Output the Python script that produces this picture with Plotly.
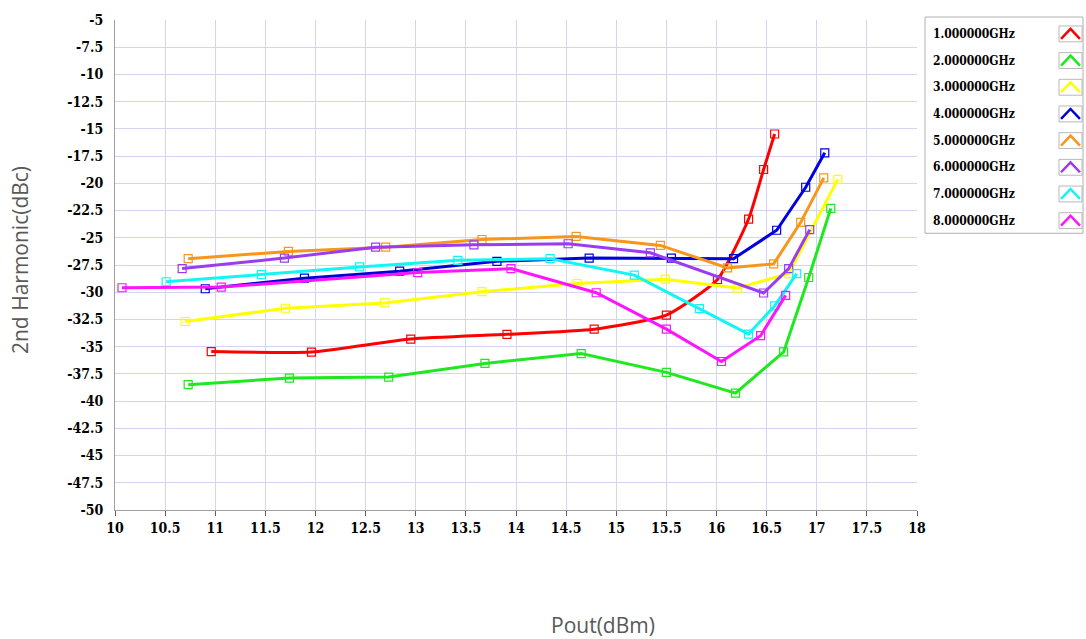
import plotly.graph_objects as go

names = ["1.000000GHz", "2.000000GHz", "3.000000GHz", "4.000000GHz",
         "5.000000GHz", "6.000000GHz", "7.000000GHz", "8.000000GHz"]
colors = ["#ff0000", "#1ee81e", "#ffff00", "#0000dd",
          "#f7961c", "#9b3cf0", "#11f5f5", "#ff14ff"]

x1 = [10.96, 11.96, 12.95, 13.91, 14.78, 15.50, 16.01, 16.32, 16.47, 16.58]
y1 = [-35.45, -35.5, -34.3, -33.87, -33.39, -32.1, -28.83, -23.28, -18.73, -15.47]
x2 = [10.73, 11.74, 12.73, 13.69, 14.65, 15.50, 16.19, 16.67, 16.92, 17.14]
y2 = [-38.49, -37.88, -37.79, -36.54, -35.63, -37.36, -39.27, -35.48, -28.65, -22.3]
x3 = [10.70, 11.70, 12.69, 13.66, 14.61, 15.49, 16.21, 16.72, 17.21]
y3 = [-32.69, -31.47, -30.98, -29.95, -29.2, -28.8, -29.62, -28.29, -19.64]
x4 = [10.90, 11.89, 12.84, 13.81, 14.73, 15.55, 16.17, 16.60, 16.89, 17.08]
y4 = [-29.68, -28.71, -28.07, -27.16, -26.86, -26.86, -26.92, -24.31, -20.36, -17.2]
x5 = [10.73, 11.73, 12.70, 13.66, 14.60, 15.44, 16.11, 16.57, 16.84, 17.07]
y5 = [-26.92, -26.25, -25.86, -25.16, -24.88, -25.7, -27.77, -27.4, -23.58, -19.5]
x6 = [10.67, 11.69, 12.60, 13.58, 14.52, 15.34, 16.47, 16.72, 16.93]
y6 = [-27.83, -26.86, -25.86, -25.65, -25.55, -26.38, -30.07, -27.83, -24.25]
x7 = [10.51, 11.46, 12.44, 13.42, 14.34, 15.18, 15.83, 16.32, 16.58, 16.80]
y7 = [-29.04, -28.38, -27.68, -27.07, -26.92, -28.43, -31.5, -33.84, -31.26, -28.29]
x8 = [10.07, 11.06, 13.02, 13.95, 14.80, 15.50, 16.05, 16.44, 16.69]
y8 = [-29.59, -29.53, -28.2, -27.83, -30.05, -33.39, -36.36, -33.99, -30.29]

xs = [x1, x2, x3, x4, x5, x6, x7, x8]
ys = [y1, y2, y3, y4, y5, y6, y7, y8]

x_ticks = [10, 10.5, 11, 11.5, 12, 12.5, 13, 13.5, 14, 14.5, 15, 15.5, 16, 16.5, 17, 17.5, 18]
y_ticks = [-5 - 2.5 * i for i in range(19)]

fig = go.Figure()
for i in range(len(names)):
    fig.add_trace(go.Scatter(
        x=xs[i], y=ys[i], name=names[i], mode="lines+markers",
        line=dict(color=colors[i], width=3,
                  shape="spline" if i == 0 else "linear", smoothing=0.5),
        marker=dict(symbol="square-open", size=8, color=colors[i],
                    line=dict(width=1.2, color=colors[i])),
        showlegend=False,
    ))

W, H = 1086, 639
L, R, T, B = 115, 917, 16, 510

def px(xp):
    return (xp - L) / (R - L)

def py(yp):
    return (B - yp) / (B - T)

SERIF = "DejaVu Serif Condensed, Liberation Serif, serif"

shapes = []
annotations = []
# legend box
shapes.append(dict(type="rect", xref="paper", yref="paper",
                   x0=px(925), x1=px(1083), y0=py(231), y1=py(13),
                   line=dict(color="#b0b0b0", width=1), fillcolor="white"))
for i, nm in enumerate(names):
    cy = 30 + i * 26.9
    annotations.append(dict(text=nm, xref="paper", yref="paper", x=px(931), y=py(cy),
                            xanchor="left", yanchor="middle", showarrow=False,
                            font=dict(family=SERIF, size=12, color="black", weight="bold")))
    bx0, bx1 = 1059, 1082
    shapes.append(dict(type="rect", xref="paper", yref="paper",
                       x0=px(bx0), x1=px(bx1), y0=py(cy + 8), y1=py(cy - 8),
                       line=dict(color="#b8b8b8", width=1), fillcolor="white"))
    path = "M {:.4f},{:.4f} L {:.4f},{:.4f} L {:.4f},{:.4f}".format(
        px(bx0 + 2), py(cy + 5), px((bx0 + bx1) / 2), py(cy - 5), px(bx1 - 2), py(cy + 5))
    shapes.append(dict(type="path", xref="paper", yref="paper", path=path,
                       line=dict(color=colors[i], width=2.5)))

annotations.append(dict(text="2nd Harmonic(dBc)", xref="paper", yref="paper",
                        x=px(20), y=py(258), textangle=-90, showarrow=False,
                        xanchor="center", yanchor="middle",
                        font=dict(family="Open Sans", size=21, color="#595959")))
annotations.append(dict(text="Pout(dBm)", xref="paper", yref="paper",
                        x=px(603), y=py(626), showarrow=False,
                        xanchor="center", yanchor="middle",
                        font=dict(family="Open Sans", size=21, color="#595959")))

tickfont = dict(family=SERIF, size=14, color="black", weight="bold")
fig.update_layout(
    width=W, height=H,
    margin=dict(l=L, r=W - R, t=T, b=H - B),
    paper_bgcolor="white", plot_bgcolor="white",
    shapes=shapes, annotations=annotations,
    xaxis=dict(range=[10, 18], tickmode="array", tickvals=x_ticks,
               ticktext=[("%g" % v) for v in x_ticks],
               showgrid=True, gridcolor="#d4d4f0", gridwidth=1,
               showline=True, linecolor="#a0a0a0", linewidth=1,
               ticks="outside", ticklen=5, tickcolor="#606060",
               zeroline=False, tickfont=tickfont),
    yaxis=dict(range=[-50, -5], tickmode="array", tickvals=y_ticks,
               ticktext=[("%g" % v) for v in y_ticks],
               showgrid=True, gridcolor="#d4d4f0", gridwidth=1,
               showline=True, linecolor="#a0a0a0", linewidth=1,
               ticks="outside", ticklen=8, tickcolor="white",
               zeroline=False, tickfont=tickfont),
)

fig.write_html("out.html")
